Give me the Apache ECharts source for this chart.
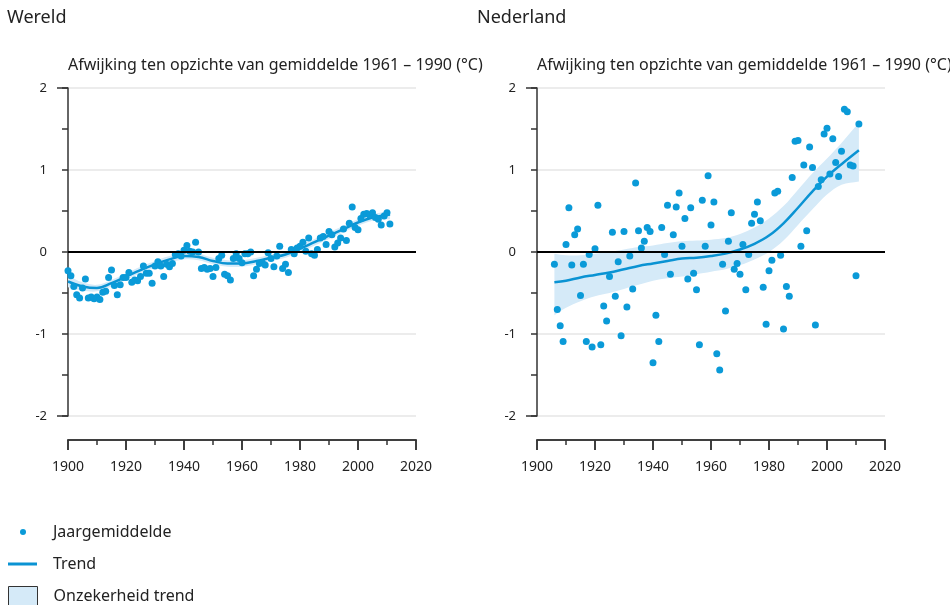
<!DOCTYPE html>
<html>
<head>
<meta charset="utf-8">
<script src="https://cdn.jsdelivr.net/npm/echarts@6/dist/echarts.min.js"></script>
<style>
  html, body { margin: 0; padding: 0; background: #fff; }
  #chart { width: 950px; height: 605px; }
</style>
</head>
<body>
<div id="chart"></div>
<script>
// annual means, world (1900 - 2011)
const worldStart = 1900;
const worldValues = [
  -0.23, -0.29, -0.42, -0.52, -0.56, -0.44, -0.33, -0.56, -0.55, -0.57,
  -0.55, -0.58, -0.49, -0.48, -0.31, -0.22, -0.41, -0.52, -0.40, -0.31,
  -0.31, -0.25, -0.37, -0.34, -0.35, -0.30, -0.17, -0.26, -0.26, -0.38,
  -0.17, -0.12, -0.17, -0.30, -0.15, -0.18, -0.14, -0.03, -0.02, -0.05,
  0.02, 0.08, 0.01, 0.00, 0.12, 0.00, -0.20, -0.19, -0.21, -0.20,
  -0.30, -0.19, -0.08, -0.04, -0.27, -0.29, -0.34, -0.08, -0.02, -0.08,
  -0.13, -0.02, -0.02, 0.00, -0.29, -0.21, -0.14, -0.13, -0.16, -0.01,
  -0.08, -0.18, -0.05, 0.07, -0.20, -0.15, -0.25, 0.03, -0.02, 0.05,
  0.07, 0.12, 0.01, 0.17, -0.02, -0.04, 0.03, 0.17, 0.19, 0.09,
  0.25, 0.21, 0.06, 0.11, 0.17, 0.28, 0.14, 0.35, 0.55, 0.30,
  0.27, 0.41, 0.46, 0.47, 0.45, 0.48, 0.42, 0.40, 0.33, 0.44,
  0.48, 0.34
];

// annual means, Netherlands (1906 - 2011)
const nlStart = 1906;
const nlValues = [
  -0.15, -0.70, -0.90, -1.09,
  0.09, 0.54, -0.16, 0.21, 0.28, -0.53, -0.15, -1.09, -0.03, -1.16,
  0.04, 0.57, -1.13, -0.66, -0.84, -0.30, 0.24, -0.54, -0.12, -1.02,
  0.25, -0.67, -0.05, -0.45, 0.84, 0.26, 0.05, 0.13, 0.30, 0.25,
  -1.35, -0.77, -1.09, 0.30, -0.03, 0.57, -0.27, 0.21, 0.55, 0.72,
  0.07, 0.41, -0.33, 0.54, -0.26, -0.46, -1.13, 0.63, 0.07, 0.93,
  0.33, 0.61, -1.24, -1.44, -0.15, -0.72, 0.13, 0.48, -0.21, -0.14,
  -0.27, 0.09, -0.46, -0.03, 0.35, 0.46, 0.61, 0.38, -0.43, -0.88,
  -0.23, -0.10, 0.72, 0.74, -0.04, -0.94, -0.42, -0.54, 0.91, 1.35,
  1.36, 0.07, 1.06, 0.26, 1.28, 1.03, -0.89, 0.80, 0.88, 1.44,
  1.51, 0.95, 1.38, 1.09, 0.92, 1.23, 1.74, 1.71, 1.06, 1.05,
  -0.29, 1.56
];

// trend and uncertainty, world
const worldTrendYears = [1900, 1905, 1910, 1915, 1920, 1925, 1930, 1935, 1940, 1945, 1950, 1955,
  1960, 1965, 1970, 1975, 1980, 1985, 1990, 1995, 2000, 2005, 2010, 2011];
const worldTrend = [-0.36, -0.42, -0.44, -0.38, -0.30, -0.22, -0.15, -0.09, -0.05, -0.06, -0.11, -0.14,
  -0.14, -0.11, -0.07, -0.03, 0.04, 0.12, 0.20, 0.28, 0.36, 0.42, 0.45, 0.46];
const worldUpper = [-0.29, -0.37, -0.40, -0.34, -0.26, -0.18, -0.11, -0.05, -0.01, -0.02, -0.07, -0.10,
  -0.10, -0.07, -0.03, 0.01, 0.08, 0.16, 0.24, 0.32, 0.40, 0.46, 0.50, 0.52];
const worldLower = [-0.43, -0.47, -0.48, -0.42, -0.34, -0.26, -0.19, -0.13, -0.09, -0.10, -0.15, -0.18,
  -0.18, -0.15, -0.11, -0.07, 0.00, 0.08, 0.16, 0.24, 0.32, 0.38, 0.40, 0.40];

// trend and uncertainty, Netherlands
const nlTrendYears = [1906, 1910, 1915, 1920, 1925, 1930, 1935, 1940, 1945, 1950, 1955,
  1960, 1965, 1970, 1975, 1980, 1985, 1990, 1995, 2000, 2005, 2011];
const nlTrend = [-0.37, -0.35, -0.31, -0.28, -0.25, -0.21, -0.17, -0.14, -0.11, -0.08, -0.07,
  -0.05, -0.02, 0.03, 0.10, 0.20, 0.35, 0.54, 0.74, 0.92, 1.07, 1.24];
const nlUpper = [-0.02, -0.04, -0.04, -0.02, 0.00, 0.03, 0.06, 0.08, 0.11, 0.13, 0.14,
  0.15, 0.17, 0.22, 0.30, 0.41, 0.56, 0.76, 0.96, 1.14, 1.33, 1.58];
const nlLower = [-0.77, -0.68, -0.60, -0.54, -0.50, -0.45, -0.40, -0.35, -0.32, -0.30, -0.27,
  -0.24, -0.21, -0.16, -0.09, 0.00, 0.14, 0.33, 0.52, 0.70, 0.82, 0.86];

// x axis ticks (labels every 20 years, short ticks in between)
const xTickYears = [1900, 1910, 1920, 1930, 1940, 1950, 1960, 1970, 1980, 1990, 2000, 2010, 2020];
const xTicks = { min: 1900, max: 2020, interval: 20 };
const yTicks = { min: -2, max: 2, interval: 1 };
const subtitle = "Afwijking ten opzichte van gemiddelde 1961 \u2013 1990 (\u00b0C)";

const FONT = "Noto Sans";
const DOT = "#0a9ad8";
const LINE = "#0a93d3";
const BAND = "#d5eaf8";
const INK = "#222";
const AXIS_INK = "#333";
const X_GAP = 24; // distance between plot bottom and the x axis line

function pairs(start, values) {
  return values.map((v, i) => [start + i, v]);
}
function zip(xs, ys) {
  return xs.map((x, i) => [x, ys[i]]);
}

function xAxis(grid) {
  return {
    type: "value", gridIndex: grid, position: "bottom", offset: X_GAP,
    min: xTicks.min, max: xTicks.max, interval: xTicks.interval,
    axisLine: { show: true, onZero: false, lineStyle: { color: AXIS_INK, width: 1.5 } },
    axisTick: { show: true, length: 10, lineStyle: { color: AXIS_INK, width: 1.5 } },
    splitLine: { show: false },
    axisLabel: { margin: 20, fontSize: 14, color: INK, fontFamily: FONT, formatter: v => String(v) }
  };
}
function yAxis(grid) {
  return {
    type: "value", gridIndex: grid, position: "left",
    min: yTicks.min, max: yTicks.max, interval: yTicks.interval,
    axisLine: { show: true, lineStyle: { color: AXIS_INK, width: 1.5 } },
    axisTick: { show: true, length: 6, lineStyle: { color: AXIS_INK, width: 1.5 } },
    minorTick: { show: true, splitNumber: 2, length: 6, lineStyle: { color: AXIS_INK, width: 1.5 } },
    splitLine: { show: true, lineStyle: { color: "#e6e6e6", width: 1.5 } },
    axisLabel: { margin: 21, fontSize: 13, color: INK, fontFamily: FONT }
  };
}

function panelSeries(idx, dots, tYears, trend, upper, lower) {
  return [
    {
      name: "Onzekerheid trend", type: "custom", xAxisIndex: idx, yAxisIndex: idx,
      data: tYears.map((y, i) => [y, lower[i], upper[i]]),
      encode: { x: 0, y: [1, 2] },
      color: BAND, itemStyle: { color: BAND }, silent: true, clip: true, z: 1,
      renderItem: function (params, api) {
        if (params.dataIndex !== 0) return null;
        const top = tYears.map((y, i) => api.coord([y, upper[i]]));
        const bottom = tYears.map((y, i) => api.coord([y, lower[i]])).reverse();
        // doubled end points keep the corners sharp while the edges stay smooth
        const pts = [top[0]].concat(top, [top[top.length - 1], bottom[0]], bottom, [bottom[bottom.length - 1]]);
        return { type: "polygon", shape: { points: pts, smooth: 0.35 }, style: { fill: BAND } };
      },
      markLine: {
        silent: true, symbol: "none", label: { show: false },
        lineStyle: { color: "#000", width: 2, type: "solid" },
        data: [{ yAxis: 0 }]
      }
    },
    {
      name: "Trend", type: "line", xAxisIndex: idx, yAxisIndex: idx,
      data: zip(tYears, trend), smooth: 0.4, symbol: "none", color: LINE,
      lineStyle: { color: LINE, width: 2.5 }, z: 3
    },
    {
      name: "Jaargemiddelde", type: "scatter", xAxisIndex: idx, yAxisIndex: idx,
      data: dots, symbolSize: 7, color: DOT,
      itemStyle: { color: DOT, opacity: 1 }, z: 4
    }
  ];
}

function legendFor(name, left, top, w, h, gap, icon, style) {
  return {
    orient: "vertical", left: left, top: top, padding: 0, selectedMode: false,
    itemWidth: w, itemHeight: h,
    formatter: n => "{g|}" + n,
    textStyle: { fontSize: 16, color: INK, fontFamily: FONT, rich: { g: { width: gap } } },
    data: [{ name: name, icon: icon, itemStyle: style }]
  };
}

const chart = echarts.init(document.getElementById("chart"), null, { renderer: "canvas" });

chart.setOption({
  animation: false,
  title: [
    { text: "Wereld", left: 7, top: 9, padding: 0, textStyle: { fontSize: 18, fontWeight: "normal", color: INK, fontFamily: FONT } },
    { text: "Nederland", left: 477, top: 9, padding: 0, textStyle: { fontSize: 18, fontWeight: "normal", color: INK, fontFamily: FONT } },
    { text: subtitle, left: 68, top: 57, padding: 0, textStyle: { fontSize: 16, fontWeight: "normal", color: INK, fontFamily: FONT } },
    { text: subtitle, left: 537, top: 57, padding: 0, textStyle: { fontSize: 16, fontWeight: "normal", color: INK, fontFamily: FONT } }
  ],
  grid: [
    { left: 68, top: 88, width: 348, height: 328 },
    { left: 537, top: 88, width: 348, height: 328 }
  ],
  xAxis: [xAxis(0), xAxis(1)],
  yAxis: [yAxis(0), yAxis(1)],
  legend: [
    legendFor("Jaargemiddelde", 20, 524, 6, 6, 22, "circle", { color: DOT }),
    legendFor("Trend", 8, 556, 29, 3, 11, "rect", { color: LINE }),
    legendFor("Onzekerheid trend", 8, 586, 29, 19, 11, "rect", { color: BAND, borderColor: "#333", borderWidth: 1 })
  ],
  series: [
    ...panelSeries(0, pairs(worldStart, worldValues), worldTrendYears, worldTrend, worldUpper, worldLower),
    ...panelSeries(1, pairs(nlStart, nlValues), nlTrendYears, nlTrend, nlUpper, nlLower)
  ]
});

// detached x axis line with its ticks, and the longer end ticks of the y axis,
// placed through the chart's own scales
function seg(x1, y1, x2, y2) {
  return {
    type: "line", silent: true, z: 100,
    shape: { x1: x1, y1: y1, x2: x2, y2: y2 },
    style: { stroke: AXIS_INK, lineWidth: 1.5 }
  };
}
function axisGraphics(grid) {
  const toPx = v => chart.convertToPixel({ gridIndex: grid }, v);
  const start = toPx([xTicks.min, yTicks.min]);
  const end = toPx([xTicks.max, yTicks.min]);
  const top = toPx([xTicks.min, yTicks.max]);
  const y0 = start[1] + X_GAP;
  const els = [seg(start[0] - 0.75, y0, end[0] + 0.75, y0)];
  xTickYears.forEach(year => {
    const p = toPx([year, yTicks.min]);
    const len = (year - xTicks.min) % xTicks.interval === 0 ? 10 : 5;
    els.push(seg(p[0], y0, p[0], y0 + len));
  });
  els.push(seg(start[0] - 11, top[1], start[0], top[1]));
  els.push(seg(start[0] - 11, start[1], start[0], start[1]));
  return els;
}

chart.setOption({
  graphic: { elements: axisGraphics(0).concat(axisGraphics(1)) }
});
</script>
</body>
</html>
